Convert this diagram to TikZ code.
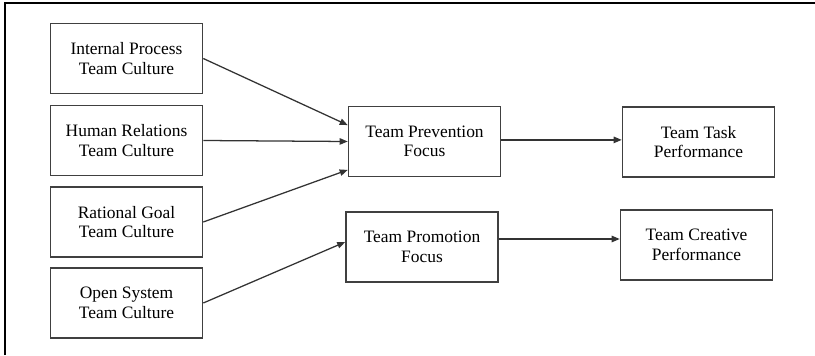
\documentclass[tikz,border=0pt]{standalone}
\usepackage{fontspec}
\setmainfont{Liberation Serif}
\usetikzlibrary{arrows.meta}

\begin{document}
\begin{tikzpicture}[x=0.025cm, y=-0.025cm,
            box/.style={draw=black!75, line width=1.1pt, minimum width=3.8cm, minimum height=1.76cm, inner sep=0pt, align=center, font=\fontsize{12.4}{13.8}\selectfont},
            arr/.style={-{Triangle[length=2mm,width=1.6mm]}, line width=0.9pt, draw=black!80}]
            \useasboundingbox (0,0) rectangle (815,355);
            \draw[line width=1.2pt] (5,355) -- (5,3) -- (815,3);
            % cultures
            \node[box] (ip) at (126.5,58.5) {Internal Process\\Team Culture};
            \node[box] (hr) at (126.5,140.5) {Human Relations\\Team Culture};
            \node[box] (rg) at (126.5,222) {Rational Goal\\Team Culture};
            \node[box] (os) at (126.5,303) {Open System\\Team Culture};
            % focus
            \node[box] (prev) at (424.5,141.5) {Team Prevention\\Focus};
            \node[box] (prom) at (422,247) {Team Promotion\\Focus};
            % performance
            \node[box] (task) at (698.5,142) {Team Task\\Performance};
            \node[box] (creat) at (696.5,245) {Team Creative\\Performance};
            \draw[arr] (ip.east) -- ([yshift=0.41cm]prev.west);
            \draw[arr] (hr.east) -- (prev.west);
            \draw[arr] (rg.east) -- ([yshift=-0.71cm]prev.west);
            \draw[arr] (os.east) -- ([yshift=0.125cm]prom.west);
            \draw[arr] ([yshift=0.04cm]prev.east) -- ([yshift=0.04cm]prev.east -| task.west);
            \draw[arr] ([yshift=0.2cm]prom.east) -- ([yshift=0.2cm]prom.east -| creat.west);
        \end{tikzpicture}
\end{document}
